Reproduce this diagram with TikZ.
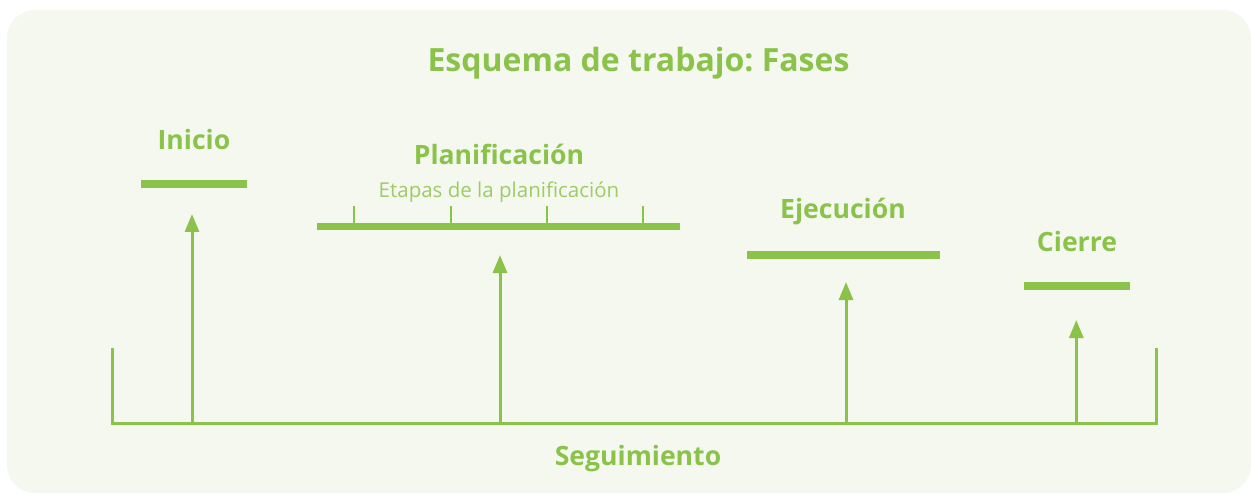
\documentclass[tikz,border=0pt]{standalone}
\usepackage{fontspec}
\setmainfont{Open Sans}
\usetikzlibrary{arrows.meta}
\frenchspacing
\definecolor{gr}{RGB}{139,195,74}
\definecolor{bgc}{RGB}{245,248,239}
\tikzset{
  lbl/.style={text=gr, font=\bfseries\fontsize{26.6}{30}\selectfont, anchor=base, inner sep=0pt},
  ttl/.style={text=gr, font=\bfseries\fontsize{32}{36}\selectfont, anchor=base, inner sep=0pt},
  sub/.style={text=gr!85, font=\fontsize{20.5}{24}\selectfont, anchor=base, inner sep=0pt},
  bar/.style={draw=gr, line width=8pt},
  tick/.style={draw=gr, line width=2.5pt},
  arr/.style={draw=gr, line width=3pt, -{Triangle[width=14pt,length=18pt]}},
  brk/.style={draw=gr, line width=3pt, line join=miter},
}
\begin{document}
\begin{tikzpicture}[x=1pt,y=-1pt]
\useasboundingbox (0,0) rectangle (1252,494);
\fill[bgc, rounded corners=28pt] (7,10) rectangle (1251,493);
\node[ttl] (title) at (638.5,72) {Esquema de trabajo: Fases};
% Inicio
\node[lbl] (inicio) at (194,150) {Inicio};
\coordinate (ib1) at (141,184); \coordinate (ib2) at (247,184);
\draw[bar] (ib1) -- (ib2);
% Planificacion
\node[lbl] (plan) at (499,165) {Planificación};
\node[sub] (etapas) at (499,197.5) {Etapas de la planificación};
\coordinate (pb1) at (317,226.5); \coordinate (pb2) at (680,226.5);
\draw[bar, line width=7.5pt] (pb1) -- (pb2);
\foreach \x [count=\i] in {354,451,547,643}{
  \coordinate (t\i a) at (\x,206.5); \coordinate (t\i b) at (\x,224);
  \draw[tick] (t\i a) -- (t\i b);
}
% Ejecucion
\node[lbl] (ejec) at (843,219) {Ejecución};
\coordinate (eb1) at (747,255); \coordinate (eb2) at (940,255);
\draw[bar] (eb1) -- (eb2);
% Cierre
\node[lbl] (cierre) at (1077,252) {Cierre};
\coordinate (cb1) at (1024,286); \coordinate (cb2) at (1130,286);
\draw[bar] (cb1) -- (cb2);
% Seguimiento bracket
\coordinate (l1) at (112.3,347.5); \coordinate (l2) at (112.3,423.3);
\coordinate (r2) at (1156.5,423.3); \coordinate (r1) at (1156.5,347.5);
\draw[brk] (l1) -- (l2) -- (r2) -- (r1);
\node[lbl] (seg) at (638,465) {Seguimiento};
% arrows
\coordinate (a1s) at (192,424.5); \coordinate (a1t) at (192,214);
\coordinate (a2s) at (500,424.5); \coordinate (a2t) at (500,255);
\coordinate (a3s) at (846,424.5); \coordinate (a3t) at (846,282);
\coordinate (a4s) at (1076.3,424.5); \coordinate (a4t) at (1076.3,320);
\draw[arr] (a1s) -- (a1t);
\draw[arr] (a2s) -- (a2t);
\draw[arr] (a3s) -- (a3t);
\draw[arr] (a4s) -- (a4t);
\end{tikzpicture}
\end{document}
